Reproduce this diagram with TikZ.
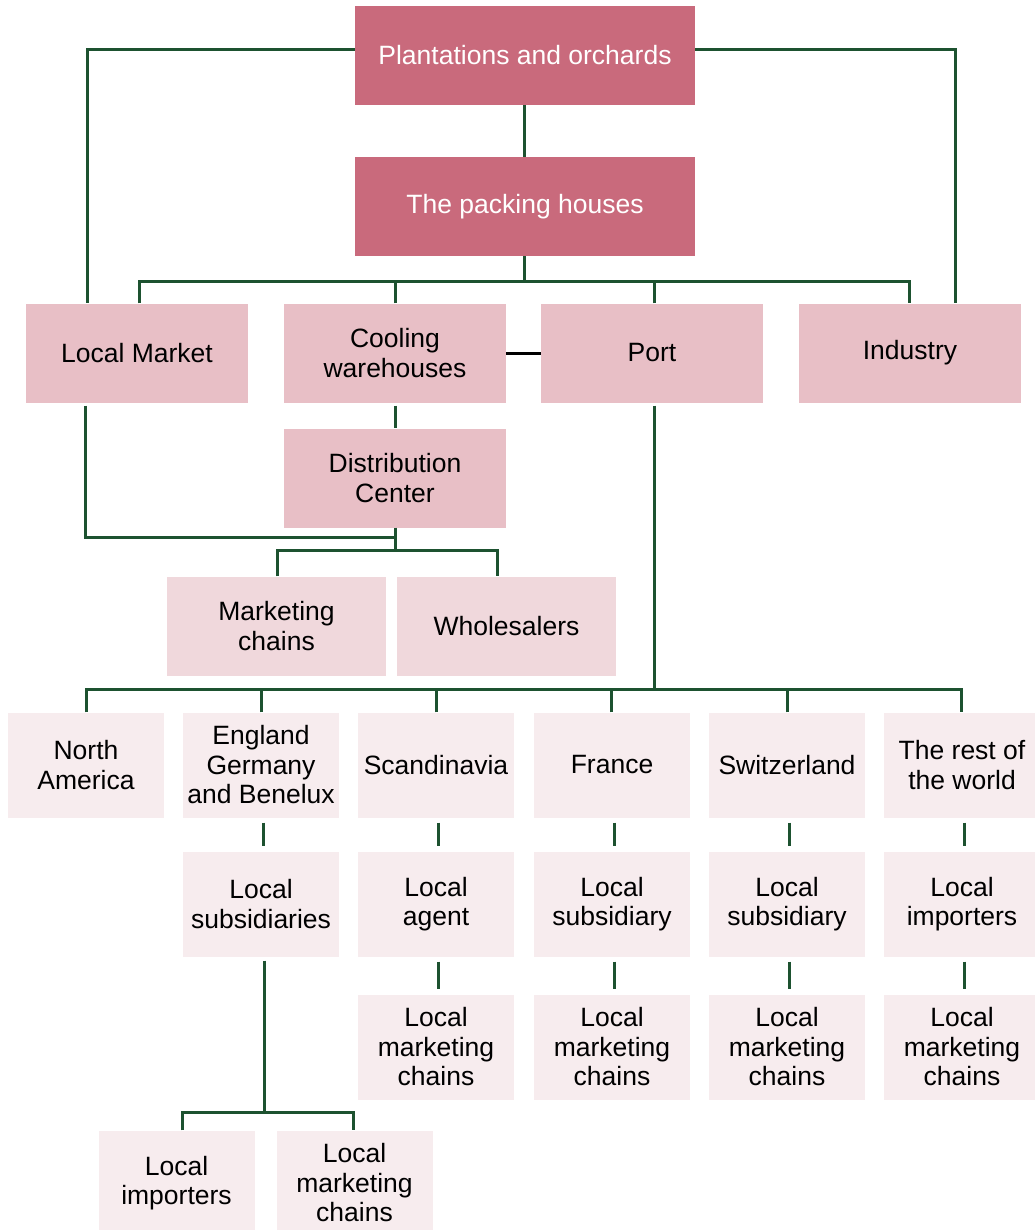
\documentclass[tikz,border=0pt]{standalone}
\usepackage{fontspec}
\setmainfont{Liberation Sans}
\definecolor{topc}{HTML}{C96A7C}
\definecolor{midc}{HTML}{E8BFC6}
\definecolor{lightc}{HTML}{F0D8DC}
\definecolor{palec}{HTML}{F7ECEE}
\definecolor{linec}{HTML}{1D5230}
\begin{document}
\begin{tikzpicture}[x=1pt,y=-1pt,
  box/.style={rectangle,inner sep=0pt,align=center,font=\fontsize{26.5}{29.5}\selectfont,text=black},
  topbox/.style={box,fill=topc,text=white,minimum width=340pt,minimum height=99pt},
  midbox/.style={box,fill=midc,minimum width=222pt,minimum height=99pt},
  lightbox/.style={box,fill=lightc,minimum width=219pt,minimum height=99pt},
  palebox/.style={box,fill=palec,minimum width=156pt,minimum height=105pt},
  conn/.style={draw=linec,line width=3pt},
]
\useasboundingbox (0,0) rectangle (1034,1230);
% top
\node[topbox] (plant) at (525,55.5) {Plantations and orchards};
\node[topbox] (pack) at (525,206.5) {The packing houses};
% level 2
\node[midbox] (lm) at (137,353) {Local Market};
\node[midbox] (cool) at (395,353) {Cooling\\warehouses};
\node[midbox] (port) at (652,353) {Port};
\node[midbox] (ind) at (910,353) {Industry};
\node[midbox] (dc) at (395,478) {Distribution\\Center};
\node[lightbox] (mc) at (276.5,626) {Marketing\\chains};
\node[lightbox] (wh) at (506.5,626) {Wholesalers};
% countries
\node[palebox] (na) at (86,765) {North\\America};
\node[palebox] (eng) at (261,765) {England\\Germany\\and Benelux};
\node[palebox] (sca) at (436,765) {Scandinavia};
\node[palebox] (fra) at (612,765) {France};
\node[palebox] (swi) at (787,765) {Switzerland};
\node[palebox] (rest) at (962,765) {The rest of\\the world};
% row 2
\node[palebox] (engs) at (261,904) {Local\\subsidiaries};
\node[palebox] (scas) at (436,904) {Local\\agent};
\node[palebox] (fras) at (612,904) {Local\\subsidiary};
\node[palebox] (swis) at (787,904) {Local\\subsidiary};
\node[palebox] (rests) at (962,904) {Local\\importers};
% row 3
\node[palebox] (scam) at (436,1047) {Local\\marketing\\chains};
\node[palebox] (fram) at (612,1047) {Local\\marketing\\chains};
\node[palebox] (swim) at (787,1047) {Local\\marketing\\chains};
\node[palebox] (restm) at (962,1047) {Local\\marketing\\chains};
% bottom
\node[palebox] (engi) at (176.5,1183) {Local\\importers};
\node[palebox] (engm) at (354.5,1183) {Local\\marketing\\chains};
% junctions
\coordinate (b1) at (524,282);
\coordinate (j1) at (395,537);
\coordinate (j2) at (395,550);
\coordinate (j3) at (654,689);
\coordinate (j4) at (264,1112);
% connectors
\draw[conn] (plant.south -| b1) -- (pack.north -| b1);
\draw[conn] (pack.south -| b1) -- (b1);
\draw[conn] ([xshift=2pt]lm.north) |- (b1) -| ([xshift=-1pt]ind.north);
\draw[conn] (cool.north) -- (cool.north |- b1);
\draw[conn] ([xshift=2pt]port.north) -- ([xshift=2pt]port.north |- b1);
\draw[conn] ([yshift=5.5pt]plant.west) -| ([xshift=-50pt]lm.north);
\draw[conn] ([yshift=5.5pt]plant.east) -| ([xshift=45pt]ind.north);
\draw[draw=black,line width=3pt] (cool.east) -- (port.west);
\draw[conn] ([xshift=-52pt,yshift=-3pt]lm.south) |- (j1);
\draw[conn] ([yshift=-3pt]cool.south) -- (dc.north);
\draw[conn] (dc.south) -- (j2);
\draw[conn] ([xshift=0.5pt]mc.north) |- (j2) -| ([xshift=-9.5pt]wh.north);
\draw[conn] ([xshift=2pt,yshift=-3pt]port.south) -- (j3);
\draw[conn] (na.north) |- (j3) -| ([xshift=-1pt]rest.north);
\draw[conn] (eng.north) -- (eng.north |- j3);
\draw[conn] (sca.north) -- (sca.north |- j3);
\draw[conn] ([xshift=-1pt]fra.north) -- ([xshift=-1pt]fra.north |- j3);
\draw[conn] (swi.north) -- (swi.north |- j3);
% row links
\foreach \a/\b in {eng/engs,sca/scas,fra/fras,swi/swis,rest/rests,scas/scam,fras/fram,swis/swim,rests/restm}{
  \draw[conn] ([xshift=2pt,yshift=-5pt]\a.south) -- ([xshift=2pt,yshift=5pt]\b.north);
}
\draw[conn] ([xshift=3pt,yshift=-4pt]engs.south) -- (j4);
\draw[conn] ([xshift=5.5pt]engi.north) |- (j4) -| ([xshift=-1.5pt]engm.north);
\end{tikzpicture}
\end{document}
